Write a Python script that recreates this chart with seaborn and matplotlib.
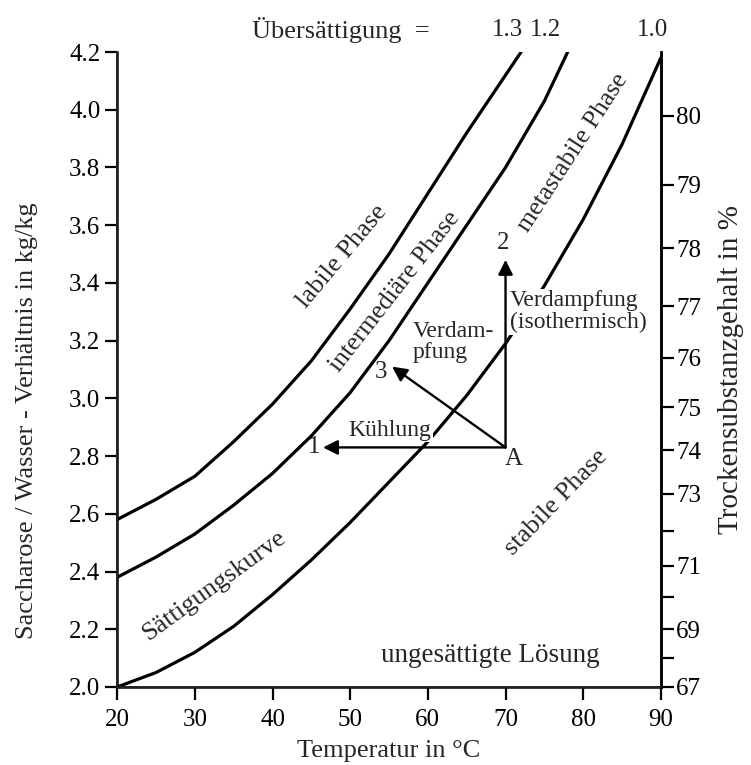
import numpy as np
import pandas as pd
import matplotlib
matplotlib.use("Agg")
import matplotlib.pyplot as plt
import seaborn as sns

# curve data (temperature in C, sucrose/water ratio)
temp_sat = [20, 25, 30, 35, 40, 45, 50, 55, 60, 65, 70, 75, 80, 85, 90]
ratio_sat = [2.00, 2.05, 2.12, 2.21, 2.32, 2.44, 2.57, 2.71, 2.85, 3.01, 3.19, 3.39, 3.62, 3.88, 4.18]

temp_12 = [20, 25, 30, 35, 40, 45, 50, 55, 60, 65, 70, 75, 78]
ratio_12 = [2.38, 2.45, 2.53, 2.63, 2.74, 2.87, 3.02, 3.20, 3.40, 3.60, 3.80, 4.03, 4.20]

temp_13 = [20, 25, 30, 35, 40, 45, 50, 55, 60, 65, 70, 72]
ratio_13 = [2.58, 2.65, 2.73, 2.85, 2.98, 3.13, 3.31, 3.50, 3.71, 3.92, 4.12, 4.20]

# right axis: dry substance %, positions read as ratio
ds_ticks = [67, 68, 69, 70, 71, 72, 73, 74, 75, 76, 77, 78, 79, 80]
ds_pos = [2.00, 2.10, 2.20, 2.31, 2.42, 2.54, 2.67, 2.82, 2.97, 3.14, 3.32, 3.52, 3.74, 3.98]
ds_labels = ["67", "", "69", "", "71", "", "73", "74", "75", "76", "77", "78", "79", "80"]

# process arrows from point A
point_a = (70, 2.83)
tip_1 = (46.5, 2.83)   # Kuehlung
tip_2 = (70, 3.48)     # Verdampfung isotherm
tip_3 = (55.4, 3.11)   # Verdampfung

sns.set_theme(style="ticks")
plt.rcParams['font.family'] = ['Liberation Serif', 'DejaVu Serif']

fig, ax = plt.subplots(figsize=(7.51, 7.65), dpi=100)
fig.subplots_adjust(left=0.156, right=0.880, bottom=0.102, top=0.932)

for t, r in [(temp_13, ratio_13), (temp_12, ratio_12), (temp_sat, ratio_sat)]:
    sns.lineplot(x=t, y=r, ax=ax, color="black", linewidth=2.3, zorder=2)

ax.set_xlim(20, 90)
ax.set_ylim(2.0, 4.2)
ax.set_xticks(range(20, 91, 10))
ax.set_yticks(np.round(np.arange(2.0, 4.21, 0.2), 1))
ax.set_yticklabels([f"{v:.1f}" for v in np.arange(2.0, 4.21, 0.2)])
ax.tick_params(direction="out", length=9, width=1.6, labelsize=18, colors="black", pad=3)
ax.tick_params(axis="x", pad=7)
ax.spines["top"].set_visible(False)
for s in ["left", "bottom", "right"]:
    ax.spines[s].set_linewidth(1.8)
    ax.spines[s].set_color("black")

ax.set_xlabel("Temperatur in °C", fontsize=19, labelpad=6)
ax.set_ylabel("Saccharose / Wasser - Verhältnis in kg/kg", fontsize=19)
ax.yaxis.set_label_coords(-0.145, 0.42)

ax2 = ax.twinx()
ax2.set_ylim(ax.get_ylim())
ax2.set_yticks(ds_pos)
ax2.set_yticklabels(ds_labels)
ax2.tick_params(direction="out", length=9, width=1.6, labelsize=18, colors="black", pad=2)
ax2.spines["top"].set_visible(False)
ax2.spines["right"].set_linewidth(1.8)
ax2.spines["right"].set_color("black")
ax2.set_ylabel("Trockensubstanzgehalt in %", fontsize=21, labelpad=12)

# arrows
for tip in [tip_1, tip_2, tip_3]:
    ax.annotate("", xy=tip, xytext=point_a,
                arrowprops=dict(arrowstyle="-|>", color="black", lw=1.7,
                                mutation_scale=22, shrinkA=0, shrinkB=0),
                zorder=3)

white = dict(facecolor="white", edgecolor="none", pad=1)
ax.text(45.3, 2.83, "1", fontsize=18, ha="center", va="center")
ax.text(69.7, 3.54, "2", fontsize=18, ha="center", va="center")
ax.text(54.0, 3.09, "3", fontsize=18, ha="center", va="center")
ax.text(71.1, 2.79, "A", fontsize=18, ha="center", va="center")
ax.text(55.1, 2.89, "Kühlung", fontsize=17, ha="center", va="center", bbox=white, zorder=4)
ax.text(58.0, 3.195, "Verdam-\npfung", fontsize=17, ha="left", va="center",
        linespacing=1.0, zorder=4)
ax.text(70.6, 3.30, "Verdampfung\n(isothermisch)", fontsize=17, ha="left", va="center",
        linespacing=1.05, bbox=white, zorder=4)

ax.text(49.0, 3.49, "labile Phase", fontsize=19, rotation=50, ha="center", va="center")
ax.text(55.8, 3.37, "intermediäre Phase", fontsize=18.5, rotation=52, ha="center", va="center")
ax.text(78.7, 3.85, "metastabile Phase", fontsize=18.5, rotation=57, ha="center", va="center")
ax.text(76.6, 2.64, "stabile Phase", fontsize=19, rotation=46, ha="center", va="center")
ax.text(32.5, 2.35, "Sättigungskurve", fontsize=19, rotation=36, ha="center", va="center")
ax.text(68.0, 2.11, "ungesättigte Lösung", fontsize=19.5, ha="center", va="center")

# header above the plot
ax.text(48.8, 4.276, "Übersättigung  =", fontsize=19, ha="center", va="center")
ax.text(70.2, 4.276, "1.3", fontsize=18, ha="center", va="center")
ax.text(75.1, 4.276, "1.2", fontsize=18, ha="center", va="center")
ax.text(88.9, 4.276, "1.0", fontsize=18, ha="center", va="center")

plt.savefig("out.png", dpi=100)
